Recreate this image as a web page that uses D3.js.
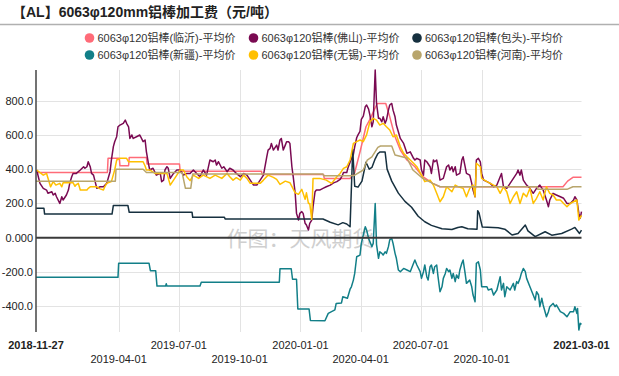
<!DOCTYPE html>
<html>
<head>
<meta charset="utf-8">
<script src="https://cdn.jsdelivr.net/npm/d3@7"></script>
<style>
  html, body { margin: 0; padding: 0; background: #fff; }
  svg { display: block; font-family: "Liberation Sans", Arial, "Noto Sans CJK SC", sans-serif; }
</style>
</head>
<body>
<div id="chart"></div>
<script>
// =========================
// DATA
// =========================
const seriesNames = [
    "6063φ120铝棒(临沂)-平均价",
    "6063φ120铝棒(佛山)-平均价",
    "6063φ120铝棒(包头)-平均价",
    "6063φ120铝棒(新疆)-平均价",
    "6063φ120铝棒(无锡)-平均价",
    "6063φ120铝棒(河南)-平均价"
];

const linyi = [
    ["2018-11-27",380],["2019-03-15",380],["2019-03-16",463],["2019-04-02",463],["2019-04-03",420],
    ["2019-04-16",420],["2019-04-17",468],["2019-05-13",468],["2019-05-14",430],["2019-07-02",430],
    ["2019-07-03",388],["2019-11-03",388],["2019-11-04",368],["2020-02-05",368],["2020-02-06",345],
    ["2020-03-16",345],["2020-03-23",380],["2020-03-31",500],["2020-04-09",647],["2020-04-15",690],
    ["2020-04-26",783],["2020-05-09",783],["2020-05-15",705],["2020-05-23",589],["2020-05-31",511],
    ["2020-06-10",453],["2020-06-22",414],["2020-07-04",356],["2020-07-19",317],["2020-07-30",297],
    ["2021-02-01",297],["2021-02-08",330],["2021-02-16",352],["2021-03-01",352]
];

const foshan = [
    ["2018-11-28",395],["2018-12-03",317],["2018-12-08",288],["2018-12-13",278],["2018-12-15",259],
    ["2018-12-21",268],["2018-12-23",249],["2018-12-26",259],["2018-12-28",239],["2019-01-02",200],
    ["2019-01-05",239],["2019-01-07",220],["2019-01-12",249],["2019-01-15",278],["2019-01-17",317],
    ["2019-01-20",356],["2019-01-22",375],["2019-01-27",375],["2019-02-02",395],["2019-02-07",414],
    ["2019-02-09",405],["2019-02-12",414],["2019-02-14",443],["2019-02-17",414],["2019-02-19",375],
    ["2019-02-22",365],["2019-02-27",288],["2019-03-04",297],["2019-03-09",297],["2019-03-14",317],
    ["2019-03-19",385],["2019-03-21",453],["2019-03-24",531],["2019-03-26",560],["2019-03-29",589],
    ["2019-03-31",647],["2019-04-03",657],["2019-04-08",667],["2019-04-11",686],["2019-04-13",667],
    ["2019-04-16",647],["2019-04-18",579],["2019-04-21",599],["2019-04-23",579],["2019-04-28",589],
    ["2019-05-03",599],["2019-05-08",560],["2019-05-11",570],["2019-05-13",501],["2019-05-16",434],
    ["2019-05-18",395],["2019-05-23",405],["2019-05-28",365],["2019-06-03",375],["2019-06-05",327],
    ["2019-06-08",336],["2019-06-10",395],["2019-06-13",414],["2019-06-15",405],["2019-06-18",346],
    ["2019-06-23",375],["2019-06-28",395],["2019-07-03",395],["2019-07-08",365],["2019-07-13",375],
    ["2019-07-18",375],["2019-07-23",395],["2019-07-28",375],["2019-08-02",356],["2019-08-07",395],
    ["2019-08-12",365],["2019-08-17",453],["2019-08-22",443],["2019-08-25",453],["2019-08-27",424],
    ["2019-08-30",443],["2019-09-04",405],["2019-09-07",414],["2019-09-12",385],["2019-09-16",405],
    ["2019-09-21",395],["2019-09-26",375],["2019-10-02",356],["2019-10-07",375],["2019-10-12",365],
    ["2019-10-17",336],["2019-10-22",307],["2019-10-27",307],["2019-11-01",336],["2019-11-06",365],
    ["2019-11-11",472],["2019-11-13",511],["2019-11-16",521],["2019-11-18",550],["2019-11-21",511],
    ["2019-11-26",540],["2019-11-28",511],["2019-12-01",570],["2019-12-03",579],["2019-12-06",511],
    ["2019-12-09",540],["2019-12-11",560],["2019-12-14",560],["2019-12-16",550],["2019-12-19",414],
    ["2019-12-21",356],["2019-12-24",259],["2019-12-26",142],["2019-12-29",103],["2019-12-31",142],
    ["2020-01-03",152],["2020-01-05",142],["2020-01-08",84],["2020-01-10",74],["2020-01-13",45],
    ["2020-01-15",84],["2020-01-18",103],["2020-01-20",181],["2020-01-23",268],["2020-01-25",278],
    ["2020-01-30",278],["2020-02-04",288],["2020-02-09",297],["2020-02-15",307],["2020-02-20",320],
    ["2020-02-25",327],["2020-03-01",340],["2020-03-04",360],["2020-03-06",380],["2020-03-11",380],
    ["2020-03-13",410],["2020-03-16",440],["2020-03-18",460],["2020-03-21",486],["2020-03-23",530],
    ["2020-03-26",583],["2020-03-28",600],["2020-03-31",620],["2020-04-02",690],["2020-04-05",709],
    ["2020-04-08",764],["2020-04-10",774],["2020-04-13",750],["2020-04-15",715],["2020-04-18",647],
    ["2020-04-20",676],["2020-04-23",978],["2020-04-25",783],["2020-04-28",696],["2020-04-30",696],
    ["2020-05-03",676],["2020-05-05",705],["2020-05-08",667],["2020-05-10",686],["2020-05-13",744],
    ["2020-05-15",774],["2020-05-18",783],["2020-05-20",744],["2020-05-23",705],["2020-05-25",657],
    ["2020-05-31",579],["2020-06-05",550],["2020-06-10",492],["2020-06-15",501],["2020-06-20",463],
    ["2020-06-22",453],["2020-06-25",463],["2020-06-30",453],["2020-07-02",395],["2020-07-05",365],
    ["2020-07-07",453],["2020-07-10",443],["2020-07-15",414],["2020-07-17",375],["2020-07-20",453],
    ["2020-07-22",443],["2020-07-25",453],["2020-07-27",414],["2020-07-30",336],["2020-08-04",346],
    ["2020-08-09",414],["2020-08-12",424],["2020-08-14",395],["2020-08-17",414],["2020-08-19",385],
    ["2020-08-22",414],["2020-08-24",365],["2020-08-29",375],["2020-09-01",453],["2020-09-03",472],
    ["2020-09-06",414],["2020-09-08",375],["2020-09-13",365],["2020-09-16",317],["2020-09-18",278],
    ["2020-09-21",239],["2020-09-23",453],["2020-09-26",463],["2020-09-29",443],["2020-10-01",375],
    ["2020-10-04",336],["2020-10-09",327],["2020-10-14",317],["2020-10-19",297],["2020-10-24",307],
    ["2020-10-29",356],["2020-10-31",375],["2020-11-03",297],["2020-11-08",288],["2020-11-13",317],
    ["2020-11-18",346],["2020-11-23",375],["2020-11-25",395],["2020-11-28",365],["2020-11-30",395],
    ["2020-12-03",336],["2020-12-08",307],["2020-12-13",288],["2020-12-18",259],["2020-12-23",288],
    ["2020-12-28",307],["2021-01-02",278],["2021-01-07",220],["2021-01-10",181],["2021-01-12",220],
    ["2021-01-17",259],["2021-01-22",249],["2021-01-28",239],["2021-02-02",230],["2021-02-07",200],
    ["2021-02-12",200],["2021-02-17",220],["2021-02-19",239],["2021-02-22",220],["2021-02-25",142],
    ["2021-02-27",113],["2021-03-01",152]
];

const baotou = [
    ["2018-11-27",172],["2018-12-09",172],["2018-12-10",138],["2019-03-22",138],["2019-03-24",188],
    ["2019-04-15",188],["2019-04-17",148],["2019-07-21",148],["2019-07-22",119],["2019-09-08",119],
    ["2019-09-09",109],["2020-02-04",109],["2020-02-15",90],["2020-02-27",75],["2020-03-05",88],
    ["2020-03-11",80],["2020-03-16",64],["2020-03-20",515],["2020-03-23",300],["2020-03-28",295],
    ["2020-04-03",330],["2020-04-09",440],["2020-04-14",400],["2020-04-18",410],["2020-04-23",460],
    ["2020-04-27",490],["2020-04-30",500],["2020-05-08",500],["2020-05-11",400],["2020-05-18",330],
    ["2020-05-28",260],["2020-06-07",212],["2020-06-17",178],["2020-06-27",125],["2020-07-07",93],
    ["2020-07-17",72],["2020-08-02",52],["2020-08-17",48],["2020-08-26",60],["2020-09-01",64],
    ["2020-09-10",52],["2020-09-24",50],["2020-09-25",158],["2020-09-27",145],["2020-10-02",62],
    ["2020-10-26",58],["2020-11-05",50],["2020-11-16",16],["2020-11-25",25],["2020-12-06",74],
    ["2020-12-10",40],["2020-12-21",6],["2021-01-05",35],["2021-01-15",15],["2021-01-30",25],
    ["2021-02-14",50],["2021-02-19",60],["2021-02-26",25],["2021-03-01",45]
];

const xinjiang = [
    ["2018-11-27",-231],["2019-03-31",-231],["2019-04-01",-149],["2019-05-17",-149],["2019-05-19",-192],
    ["2019-05-27",-192],["2019-05-29",-282],["2019-06-11",-282],["2019-06-12",-268],["2019-06-13",-282],
    ["2019-08-02",-282],["2019-08-04",-260],["2019-11-30",-260],["2019-12-01",-181],["2019-12-18",-181],
    ["2019-12-20",-242],["2019-12-26",-242],["2019-12-28",-416],["2020-01-14",-416],["2020-01-16",-482],
    ["2020-02-07",-484],["2020-02-12",-441],["2020-02-22",-421],["2020-02-24",-383],["2020-03-03",-380],
    ["2020-03-05",-344],["2020-03-12",-353],["2020-03-16",-300],["2020-03-18",-286],["2020-03-21",-247],
    ["2020-03-23",-208],["2020-03-26",-111],["2020-03-31",-101],["2020-04-02",-33],["2020-04-05",16],
    ["2020-04-08",64],["2020-04-10",45],["2020-04-13",-4],["2020-04-15",-23],["2020-04-18",-52],
    ["2020-04-20",-33],["2020-04-23",200],["2020-04-25",-40],["2020-04-28",-120],["2020-04-30",-82],
    ["2020-05-03",-91],["2020-05-05",-101],["2020-05-08",-82],["2020-05-10",-91],["2020-05-13",-52],
    ["2020-05-15",-13],["2020-05-18",-4],["2020-05-20",-33],["2020-05-23",-91],["2020-05-25",-120],
    ["2020-05-28",-188],["2020-05-31",-198],["2020-06-05",-179],["2020-06-10",-188],["2020-06-15",-198],
    ["2020-06-20",-149],["2020-06-22",-130],["2020-06-25",-159],["2020-06-30",-198],["2020-07-02",-237],
    ["2020-07-05",-198],["2020-07-07",-159],["2020-07-10",-227],["2020-07-12",-247],["2020-07-15",-169],
    ["2020-07-17",-159],["2020-07-20",-208],["2020-07-22",-169],["2020-07-25",-159],["2020-07-27",-227],
    ["2020-07-30",-315],["2020-08-02",-286],["2020-08-04",-237],["2020-08-07",-208],["2020-08-09",-179],
    ["2020-08-12",-198],["2020-08-14",-188],["2020-08-17",-237],["2020-08-19",-208],["2020-08-22",-256],
    ["2020-08-24",-217],["2020-08-27",-237],["2020-08-29",-188],["2020-09-01",-149],["2020-09-03",-130],
    ["2020-09-06",-208],["2020-09-08",-266],["2020-09-13",-247],["2020-09-16",-286],["2020-09-18",-334],
    ["2020-09-21",-373],["2020-09-23",-149],["2020-09-26",-140],["2020-09-29",-188],["2020-10-01",-286],
    ["2020-10-09",-286],["2020-10-11",-305],["2020-10-16",-298],["2020-10-19",-334],["2020-10-24",-305],
    ["2020-10-29",-227],["2020-10-31",-305],["2020-11-03",-266],["2020-11-05",-344],["2020-11-08",-286],
    ["2020-11-13",-305],["2020-11-18",-266],["2020-11-20",-305],["2020-11-23",-256],["2020-11-25",-266],
    ["2020-11-28",-237],["2020-11-30",-208],["2020-12-03",-179],["2020-12-06",-198],["2020-12-08",-237],
    ["2020-12-13",-286],["2020-12-18",-334],["2020-12-21",-363],["2020-12-23",-315],["2020-12-26",-334],
    ["2020-12-28",-402],["2020-12-31",-353],["2021-01-02",-392],["2021-01-07",-461],["2021-01-10",-431],
    ["2021-01-12",-402],["2021-01-17",-383],["2021-01-20",-402],["2021-01-22",-392],["2021-01-28",-431],
    ["2021-02-02",-441],["2021-02-07",-461],["2021-02-12",-431],["2021-02-17",-431],["2021-02-19",-402],
    ["2021-02-22",-441],["2021-02-23",-412],["2021-02-25",-538],["2021-02-27",-499],["2021-03-01",-505]
];

const wuxi = [
    ["2018-11-28",395],["2018-12-08",365],["2018-12-13",375],["2018-12-19",297],["2018-12-23",327],
    ["2018-12-27",307],["2019-01-02",317],["2019-01-05",297],["2019-01-07",321],["2019-01-22",321],
    ["2019-01-25",300],["2019-01-27",310],["2019-01-30",317],["2019-02-02",278],["2019-02-12",278],
    ["2019-02-14",288],["2019-02-17",297],["2019-02-27",297],["2019-03-04",285],["2019-03-09",278],
    ["2019-03-11",297],["2019-03-14",317],["2019-03-21",327],["2019-03-26",395],["2019-03-29",453],
    ["2019-04-03",463],["2019-04-13",463],["2019-04-16",443],["2019-05-08",443],["2019-05-11",418],
    ["2019-05-13",395],["2019-05-18",395],["2019-05-26",375],["2019-06-13",375],["2019-06-18",307],
    ["2019-06-23",336],["2019-06-28",365],["2019-07-03",395],["2019-07-08",395],["2019-07-13",356],
    ["2019-07-18",333],["2019-07-23",365],["2019-07-31",346],["2019-08-07",365],["2019-08-17",346],
    ["2019-08-25",365],["2019-09-04",346],["2019-09-12",375],["2019-09-16",356],["2019-09-21",336],
    ["2019-09-26",350],["2019-10-02",336],["2019-10-07",365],["2019-10-12",346],["2019-10-17",317],
    ["2019-11-01",317],["2019-11-06",336],["2019-11-13",365],["2019-11-21",352],["2019-11-26",340],
    ["2019-12-01",311],["2019-12-09",330],["2019-12-16",321],["2019-12-24",262],["2019-12-29",253],
    ["2020-01-03",282],["2020-01-08",224],["2020-01-10",262],["2020-01-13",200],["2020-01-15",200],
    ["2020-01-18",107],["2020-01-20",346],["2020-01-30",346],["2020-02-09",336],["2020-02-17",317],
    ["2020-02-25",356],["2020-03-01",375],["2020-03-06",404],["2020-03-11",414],["2020-03-16",453],
    ["2020-03-21",550],["2020-03-26",560],["2020-03-31",570],["2020-04-05",560],["2020-04-10",600],
    ["2020-04-15",676],["2020-04-20",696],["2020-04-25",686],["2020-04-30",657],["2020-05-05",667],
    ["2020-05-10",647],["2020-05-15",628],["2020-05-20",589],["2020-05-25",599],["2020-05-31",530],
    ["2020-06-05",492],["2020-06-10",472],["2020-06-15",453],["2020-06-20",434],["2020-06-25",414],
    ["2020-07-02",365],["2020-07-07",327],["2020-07-15",336],["2020-07-20",307],["2020-07-25",259],
    ["2020-07-30",210],["2020-08-04",239],["2020-08-09",297],["2020-08-17",268],["2020-08-22",307],
    ["2020-08-27",297],["2020-09-03",288],["2020-09-08",239],["2020-09-13",288],["2020-09-18",307],
    ["2020-09-21",239],["2020-09-23",434],["2020-09-29",414],["2020-10-01",346],["2020-10-09",327],
    ["2020-10-14",317],["2020-10-24",297],["2020-10-29",259],["2020-11-03",297],["2020-11-08",268],
    ["2020-11-13",200],["2020-11-18",239],["2020-11-23",268],["2020-11-28",200],["2020-12-03",259],
    ["2020-12-08",239],["2020-12-13",288],["2020-12-18",200],["2020-12-23",230],["2020-12-28",268],
    ["2021-01-02",220],["2021-01-07",297],["2021-01-12",259],["2021-01-17",249],["2021-01-22",220],
    ["2021-01-28",220],["2021-02-02",200],["2021-02-07",181],["2021-02-12",200],["2021-02-17",210],
    ["2021-02-22",220],["2021-02-25",103],["2021-03-01",130]
];

const henan = [
    ["2018-11-27",330],["2019-03-27",330],["2019-03-28",399],["2019-05-08",399],["2019-05-13",380],
    ["2019-07-06",380],["2019-07-11",288],["2019-07-19",288],["2019-07-22",372],["2020-02-04",372],
    ["2020-02-05",362],["2020-03-16",362],["2020-03-23",365],["2020-04-05",395],["2020-04-11",453],
    ["2020-04-18",472],["2020-04-27",527],["2020-05-01",535],["2020-05-18",535],["2020-05-23",482],
    ["2020-06-10",465],["2020-06-19",395],["2020-07-04",346],["2020-07-19",317],["2020-07-30",297],
    ["2020-12-24",297],["2020-12-25",282],["2021-02-07",282],["2021-02-16",297],["2021-03-01",297]
];

const yTicks = [-400, -200, 0, 200, 400, 600, 800];
const xTicks = ["2018-11-27", "2019-04-01", "2019-07-01", "2019-10-01", "2020-01-01",
                "2020-04-01", "2020-07-01", "2020-10-01", "2021-03-01"];

const colors = ["#ff6b78", "#7a0a52", "#16303f", "#127f88", "#ffc000", "#b8a56c"];

// =========================
// SETUP
// =========================
const parseDate = d3.timeParse("%Y-%m-%d");
const allSeries = [linyi, foshan, baotou, xinjiang, wuxi, henan].map((arr, i) => ({
    name: seriesNames[i],
    color: colors[i],
    values: arr.map(d => ({ date: parseDate(d[0]), value: d[1] }))
}));

const W = 619, H = 376;
const plot = { left: 36, right: 581.5, top: 70, bottom: 330 };

const svg = d3.select("#chart")
    .append("svg")
    .attr("width", W)
    .attr("height", H);

// =========================
// SCALES
// =========================
const x = d3.scaleTime()
    .domain([parseDate(xTicks[0]), parseDate(xTicks[xTicks.length - 1])])
    .range([plot.left, plot.right]);

const allValues = allSeries.flatMap(s => s.values.map(d => d.value));
const y = d3.scaleLinear()
    .domain(d3.extent(allValues))
    .range([plot.bottom, plot.top]);

// =========================
// TITLE & LEGEND
// =========================
svg.append("text")
    .attr("x", 12)
    .attr("y", 17)
    .style("font-size", "14px")
    .style("font-weight", "bold")
    .attr("fill", "#222")
    .text("【AL】6063φ120mm铝棒加工费（元/吨）");

svg.append("line")
    .attr("x1", 0).attr("x2", W)
    .attr("y1", 24.5).attr("y2", 24.5)
    .attr("stroke", "#b0b0b0")
    .attr("stroke-width", 1.5);

const legendX = [89.5, 253.5, 417];
const legendY = [38, 55];
allSeries.forEach((s, i) => {
    const g = svg.append("g")
        .attr("transform", `translate(${legendX[i % 3]},${legendY[Math.floor(i / 3)]})`);
    g.append("circle")
        .attr("r", 4.8)
        .attr("fill", s.color);
    g.append("text")
        .attr("x", 8)
        .attr("y", 4)
        .style("font-size", "11px")
        .attr("fill", "#333")
        .text(s.name);
});

// =========================
// GRID & AXES
// =========================
svg.append("g")
    .selectAll("line")
    .data(yTicks.filter(d => d !== 0))
    .enter()
    .append("line")
    .attr("x1", plot.left).attr("x2", plot.right)
    .attr("y1", d => Math.round(y(d)) + 0.5).attr("y2", d => Math.round(y(d)) + 0.5)
    .attr("stroke", "#e3e3e3");

svg.append("g")
    .selectAll("line")
    .data(xTicks.slice(1, -1))
    .enter()
    .append("line")
    .attr("x1", d => Math.round(x(parseDate(d))) + 0.5)
    .attr("x2", d => Math.round(x(parseDate(d))) + 0.5)
    .attr("y1", plot.top).attr("y2", plot.bottom + 2)
    .attr("stroke", "#e3e3e3");

svg.append("g")
    .selectAll("text")
    .data(yTicks)
    .enter()
    .append("text")
    .attr("x", 33)
    .attr("y", d => y(d) + 4)
    .attr("text-anchor", "end")
    .style("font-size", "11px")
    .attr("fill", "#222")
    .text(d => d === 0 ? "0.000" : d.toFixed(1));

svg.append("g")
    .selectAll("text")
    .data(xTicks)
    .enter()
    .append("text")
    .attr("x", d => x(parseDate(d)))
    .attr("y", (d, i) => i % 2 === 0 || i === xTicks.length - 1 ? 348.5 : 362.5)
    .attr("text-anchor", "middle")
    .style("font-size", "11px")
    .style("font-weight", (d, i) => i === 0 || i === xTicks.length - 1 ? "bold" : "normal")
    .attr("fill", "#222")
    .text(d => d);

// watermark
svg.append("text")
    .attr("x", 300)
    .attr("y", 246)
    .attr("text-anchor", "middle")
    .style("font-family", "'Noto Sans CJK SC', sans-serif")
    .style("font-size", "21px")
    .attr("fill", "#cfcfcf")
    .text("作图：天风期货");

// =========================
// LINES
// =========================
const line = d3.line()
    .x(d => x(d.date))
    .y(d => y(d.value));

svg.append("g")
    .selectAll("path")
    .data(allSeries)
    .enter()
    .append("path")
    .attr("fill", "none")
    .attr("stroke", d => d.color)
    .attr("stroke-width", 1.5)
    .attr("stroke-linejoin", "round")
    .attr("d", d => line(d.values));

// zero line and left axis
svg.append("line")
    .attr("x1", plot.left).attr("x2", plot.right)
    .attr("y1", y(0)).attr("y2", y(0))
    .attr("stroke", "#3a3a3a")
    .attr("stroke-width", 2);

svg.append("line")
    .attr("x1", plot.left).attr("x2", plot.left)
    .attr("y1", plot.top).attr("y2", plot.bottom + 2)
    .attr("stroke", "#444")
    .attr("stroke-width", 1.5);
</script>
</body>
</html>
